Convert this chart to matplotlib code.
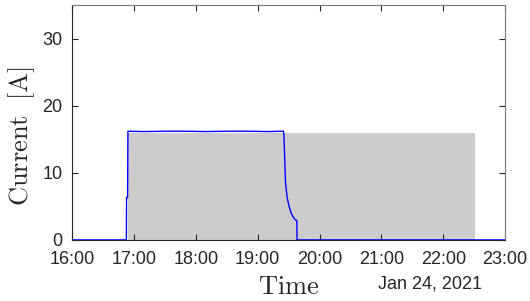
import matplotlib.pyplot as plt
import matplotlib.dates as mdates
import pandas as pd

plt.rcParams['mathtext.fontset'] = 'cm'
plt.rcParams['font.family'] = ['Liberation Sans', 'DejaVu Sans']

t_current = ["2021-01-24 16:00:00", "2021-01-24 16:52:40", "2021-01-24 16:52:50", "2021-01-24 16:53:50",
             "2021-01-24 16:54:10", "2021-01-24 17:10:00", "2021-01-24 17:30:00", "2021-01-24 17:50:00",
             "2021-01-24 18:10:00", "2021-01-24 18:30:00", "2021-01-24 18:50:00", "2021-01-24 19:10:00",
             "2021-01-24 19:25:00", "2021-01-24 19:25:30", "2021-01-24 19:27:00", "2021-01-24 19:28:30",
             "2021-01-24 19:30:30", "2021-01-24 19:32:30", "2021-01-24 19:34:30", "2021-01-24 19:36:30",
             "2021-01-24 19:38:00", "2021-01-24 19:38:10", "2021-01-24 23:00:00"]
current = [0, 0, 6.3, 6.3, 16.2, 16.15, 16.2, 16.2, 16.15, 16.2, 16.2, 16.15,
           16.2, 15.6, 8.6, 6.4, 5.0, 4.0, 3.4, 3.0, 2.9, 0, 0]

# requested current window (grey block)
t_window = ["2021-01-24 16:54:10", "2021-01-24 22:31:00"]
window_level = 16.0

tc = pd.to_datetime(t_current, format='ISO8601')
tw = pd.to_datetime(t_window, format='ISO8601')

fig, ax = plt.subplots(figsize=(5.3, 3.01), dpi=100)
fig.subplots_adjust(left=0.136, right=0.953, top=0.983, bottom=0.203)

ax.fill_between(tw, [0, 0], [window_level, window_level], color='#cccccc', linewidth=0)
ax.plot(tc, current, color='#0000ff', linewidth=1.0)

ax.set_xlim(pd.Timestamp("2021-01-24 16:00"), pd.Timestamp("2021-01-24 23:00"))
ax.set_ylim(0, 35)
ax.set_yticks([0, 10, 20, 30])
ax.xaxis.set_major_locator(mdates.HourLocator())
ax.xaxis.set_major_formatter(mdates.DateFormatter('%H:%M'))
ax.tick_params(direction='in', labelsize=13, length=4, top=True, right=True,
               color='#262626', labelcolor='#262626')
ax.tick_params(axis='y', pad=7)
ax.tick_params(axis='x', pad=8)
for s in ax.spines.values():
    s.set_color('#262626')
    s.set_linewidth(0.8)
ax.spines['top'].set_color('#777777')
ax.spines['right'].set_color('#777777')

ax.set_ylabel(r'$\mathrm{Current\ \ [A]}$', fontsize=19, color='#262626')
ax.yaxis.set_label_coords(-0.082, 0.44)
ax.set_xlabel(r'$\mathrm{Time}$', fontsize=19, labelpad=5, color='#262626')
fig.text(0.713, 0.04, 'Jan 24, 2021', fontsize=13, color='#262626')

fig.savefig('out.png')
